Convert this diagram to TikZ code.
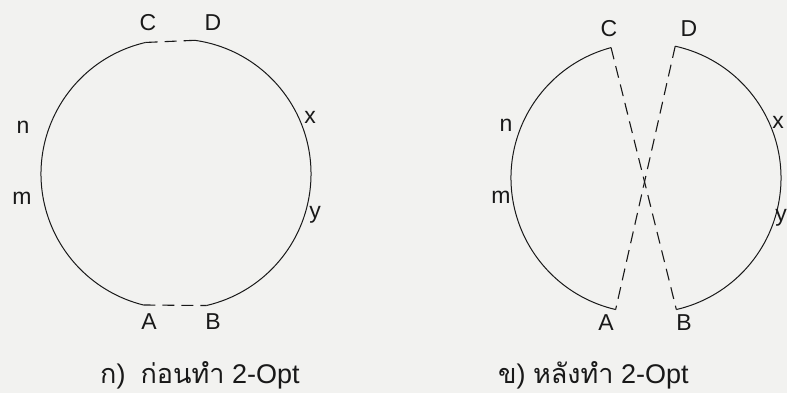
\documentclass[tikz,border=0pt]{standalone}
\usepackage{fontspec}
\usetikzlibrary{calc}
\setmainfont{Liberation Sans}
\newfontfamily\thaifont[Script=Thai]{Loma}
\definecolor{bgpaper}{RGB}{242,242,240}
\definecolor{ink}{RGB}{25,25,25}
\begin{document}
\begin{tikzpicture}[x=1pt,y=1pt,
  tour/.style={draw=ink,line width=1pt},
  cutline/.style={draw=ink,line width=1.1pt,dash pattern=on 12pt off 7pt},
  lbl/.style={inner sep=0pt,font=\fontsize{23}{23}\selectfont,text=ink},
  captext/.style={inner sep=0pt,anchor=base west,font=\fontsize{27}{27}\selectfont,text=ink}]
\fill[bgpaper] (0,0) rectangle (787,393);
\useasboundingbox (0,0) rectangle (787,393);
% ---------- left: before ----------
\coordinate (L) at (176,219);
\coordinate (LC) at ($(L)+(103:135)$);
\coordinate (LD) at ($(L)+(82:135)$);
\coordinate (LA) at ($(L)+(256:135)$);
\coordinate (LB) at ($(L)+(283:135)$);
\draw[tour] (LD) arc[start angle=82,end angle=-77,radius=135];
\draw[tour] (LC) arc[start angle=103,end angle=256,radius=135];
\draw[cutline] (LC) -- (LD);
\draw[cutline] (LA) -- (LB);
\node[lbl] (lc) at (148,370) {C};
\node[lbl] (ld) at (213,370) {D};
\node[lbl] (ln) at (23,266) {n};
\node[lbl] (lm) at (22,195) {m};
\node[lbl] (lx) at (310,276) {x};
\node[lbl] (ly) at (315,178) {y};
\node[lbl] (la) at (149,71) {A};
\node[lbl] (lb) at (213,71) {B};
\node[captext] (lcap) at (100,9.5) {{\thaifont ก})\ \ {\thaifont ก่อนทำ} 2-Opt};
% ---------- right: after ----------
\coordinate (R) at (646,215);
\coordinate (RC) at ($(R)+(105:135)$);
\coordinate (RD) at ($(R)+(77.5:135)$);
\coordinate (RA) at ($(R)+(257:135)$);
\coordinate (RB) at ($(R)+(283:135)$);
\draw[tour] (RC) arc[start angle=105,end angle=257,radius=135];
\draw[tour] (RD) arc[start angle=77.5,end angle=-77,radius=135];
\draw[cutline] (RC) -- (RB);
\draw[cutline] (RD) -- (RA);
\node[lbl] (rc) at (609,364) {C};
\node[lbl] (rd) at (689,364) {D};
\node[lbl] (rn) at (506,268) {n};
\node[lbl] (rm) at (501,196) {m};
\node[lbl] (rx) at (778,271) {x};
\node[lbl] (ry) at (781,175) {y};
\node[lbl] (ra) at (606,70) {A};
\node[lbl] (rb) at (684,70) {B};
\node[captext] (rcap) at (498,9.5) {{\thaifont ข}) {\thaifont หลังทำ} 2-Opt};
\end{tikzpicture}
\end{document}
